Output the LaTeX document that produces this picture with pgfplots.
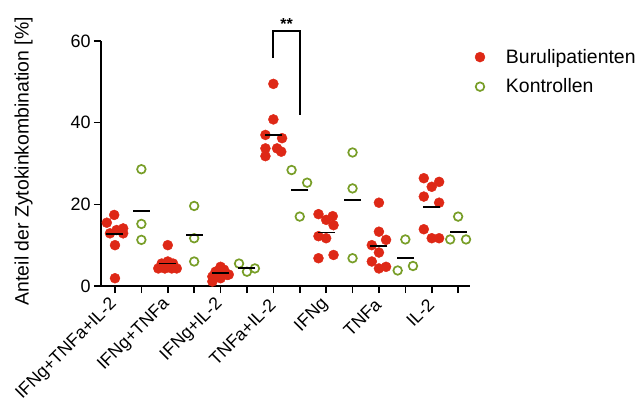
\documentclass[border=0pt]{standalone}
\usepackage{pgfplots}
\pgfplotsset{compat=1.18}
\usepackage{fontspec}
\setmainfont{Liberation Sans}
\definecolor{pred}{RGB}{222,40,22}
\definecolor{cgreen}{RGB}{120,158,40}
\begin{document}
\begin{tikzpicture}
\useasboundingbox (0,0) rectangle (643bp,405bp);
\begin{axis}[
  at={(101bp,119bp)}, anchor=south west,
  scale only axis, width=369bp, height=245bp,
  xmin=-0.53, xmax=13.45, ymin=0, ymax=60,
  axis x line*=bottom, axis y line*=left,
  axis line style={line width=1.6bp, -},
  clip=false,
  font=\fontsize{18}{21}\selectfont,
  /pgf/number format/assume math mode=true,
  ytick={0,20,40,60},
  xtick={0,...,13},
  xticklabels={IFNg+TNFa+IL-2,,IFNg+TNFa,,IFNg+IL-2,,TNFa+IL-2,,IFNg,,TNFa,,IL-2,},
  x tick label style={rotate=45, anchor=east, inner sep=1bp, font=\fontsize{17.8}{20}\selectfont},
  xticklabel shift=8bp,
  tick align=outside, major tick length=7bp,
  tick style={line width=1.6bp, black},
  ylabel={Anteil der Zytokinkombination [\%]},
  ylabel style={at={(axis description cs:-0.21,0.51)}, anchor=center, font=\fontsize{19.5}{22}\selectfont},
  legend style={draw=none, fill=none, at={(axis description cs:1.013,0.975)}, anchor=north west,
    font=\fontsize{19.5}{22}\selectfont, row sep=10bp, inner sep=0pt,
    /tikz/every odd column/.append style={column sep=19bp}},
  legend cell align=left,
]
% patients
\addplot[only marks, mark=*, mark size=5bp, color=pred, mark options={draw=pred, fill=pred}] coordinates {
(-0.31,15.5)(-0.03,17.4)(-0.19,12.9)(0.06,13.7)(0.31,14.1)(0.31,12.9)(0,10.0)(0,1.9)
(2,10.0)(1.64,4.3)(1.89,4.3)(2.15,4.3)(2.34,4.3)(1.77,5.5)(2,6.0)(2.2,5.5)
(4,4.7)(3.81,3.5)(4.25,2.7)(3.69,2.3)(4.31,2.8)(3.69,1.1)(4,1.9)(4.13,4.0)
(6,49.5)(6,40.8)(5.7,37.0)(6.33,36.2)(5.7,33.7)(5.7,31.8)(6.14,33.7)(6.3,32.9)
(7.71,17.6)(8.25,17.1)(8,16.2)(8.28,14.9)(7.71,12.2)(8,11.7)(7.71,6.8)(8.28,7.6)
(10,20.4)(10,13.3)(10.27,11.3)(9.73,10.0)(10,8.2)(9.73,6.0)(10,4.3)(10.27,4.7)
(11.7,26.4)(12.28,25.5)(12,24.3)(11.7,21.9)(12.28,20.4)(11.7,13.9)(12,11.7)(12.28,11.7)
};
\addlegendentry{Burulipatienten}
% controls
\addplot[only marks, mark=o, mark size=4.3bp, color=cgreen, mark options={line width=1.7bp, draw=cgreen, fill=white}] coordinates {
(1,28.6)(1,15.2)(1,11.3)
(3,19.6)(3,11.7)(3,6.0)
(4.7,5.5)(5,3.5)(5.3,4.3)
(6.69,28.4)(7.28,25.3)(7,17.0)
(9,32.7)(9,23.9)(9,6.8)
(11,11.4)(10.71,3.8)(11.29,4.9)
(13,17.0)(12.7,11.4)(13.3,11.4)
};
\addlegendentry{Kontrollen}
% means
\addplot[forget plot, only marks, mark=-, mark size=8.5bp, mark options={line width=1.8bp, black}] coordinates {
(0,12.7)(1,18.4)(2,5.5)(3,12.5)(4,3.2)(5,4.5)(6,37.0)(7,23.5)(8,13.1)(9,21.1)(10,9.7)(11,6.8)(12,19.4)(13,13.3)
};
% significance bracket
\addplot[forget plot, black, line width=2.2bp] coordinates {(6,55.8)(6,62.4)(7,62.4)(7,41.9)};
\node[anchor=south, inner sep=1bp, font=\fontsize{16}{16}\selectfont\bfseries] at (axis cs:6.5,62.6) {**};
\end{axis}
\end{tikzpicture}
\end{document}
